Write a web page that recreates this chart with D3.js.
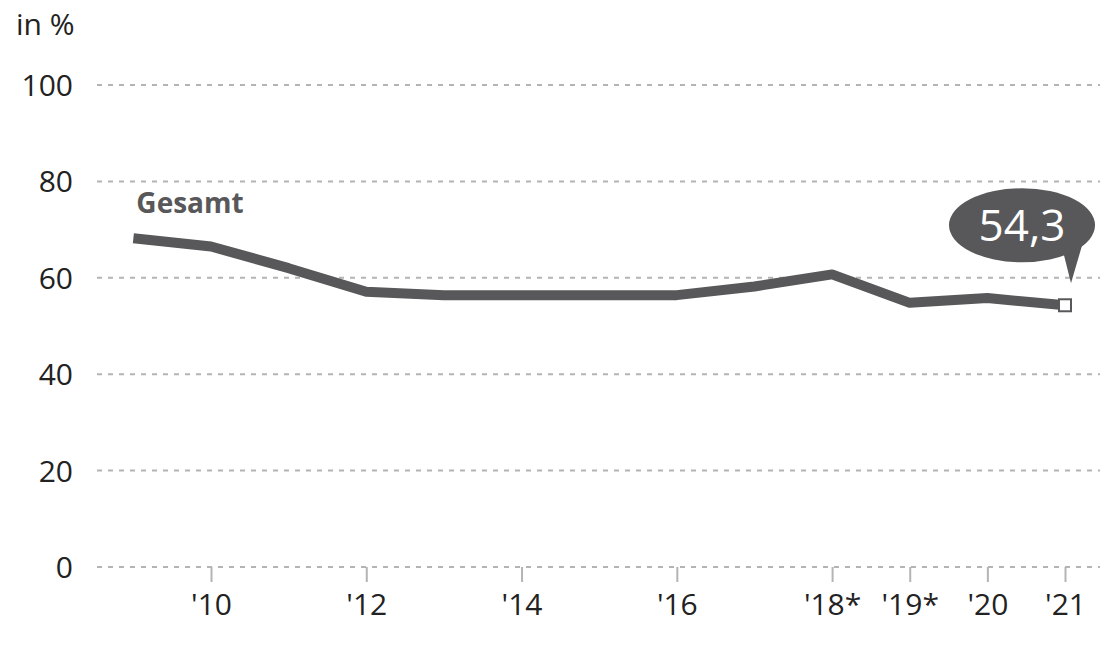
<!DOCTYPE html>
<html>
<head>
<meta charset="utf-8">
<script src="https://cdn.jsdelivr.net/npm/d3@7"></script>
<style>
  body { margin: 0; background: #fff; }
  svg text { font-family: "Open Sans", "Noto Sans", sans-serif; }
</style>
</head>
<body>
<div id="chart"></div>
<script>
var years = [2009, 2010, 2011, 2012, 2013, 2014, 2015, 2016, 2017, 2018, 2019, 2020, 2021];
var gesamt = [68.2, 66.5, 62.0, 57.1, 56.4, 56.4, 56.4, 56.4, 58.2, 60.7, 54.8, 55.8, 54.3];
var tickYears = [2010, 2012, 2014, 2016, 2018, 2019, 2020, 2021];
var tickLabels = ["'10", "'12", "'14", "'16", "'18*", "'19*", "'20", "'21"];
var yTicks = [0, 20, 40, 60, 80, 100];

var W = 1109, H = 668;
var lineColor = "#58585a"; // dunkelgrau

var svg = d3.select("#chart").append("svg")
            .attr("width", W)
            .attr("height", H);

var x = d3.scaleLinear().domain([2010, 2021]).range([211, 1065]);
var y = d3.scaleLinear().domain([0, 100]).range([567, 85]);

// Raster
svg.selectAll("line.grid")
   .data(yTicks)
   .enter()
   .append("line")
   .attr("class", "grid")
   .attr("x1", 97).attr("x2", 1100)
   .attr("y1", function(d) { return y(d); })
   .attr("y2", function(d) { return y(d); })
   .attr("stroke", "#b4b4b4")
   .attr("stroke-width", 2)
   .attr("stroke-dasharray", "5,6");

svg.selectAll("text.ylab")
   .data(yTicks)
   .enter()
   .append("text")
   .attr("class", "ylab")
   .attr("x", 73)
   .attr("y", function(d) { return y(d) + 11; })
   .attr("text-anchor", "end")
   .attr("font-size", 30)
   .attr("fill", "#222")
   .text(function(d) { return d; });

svg.append("text")
   .attr("x", 16).attr("y", 35)
   .attr("font-size", 30)
   .attr("fill", "#222")
   .text("in %");

// x-Achse
var xAxis = d3.axisBottom(x)
              .tickValues(tickYears)
              .tickSize(15)
              .tickFormat(function(d, i) { return tickLabels[i]; });

var gx = svg.append("g")
            .attr("transform", "translate(0," + y(0) + ")")
            .call(xAxis);
gx.select(".domain").remove();
gx.selectAll(".tick line").attr("stroke", "#b4b4b4").attr("stroke-width", 2);
gx.selectAll(".tick text")
  .attr("font-family", "'Open Sans', 'Noto Sans', sans-serif")
  .attr("font-size", 30)
  .attr("fill", "#222")
  .attr("y", 27);

// Linie
var line = d3.line()
             .x(function(d, i) { return x(years[i]); })
             .y(function(d) { return y(d); });

svg.append("path")
   .datum(gesamt)
   .attr("d", line)
   .attr("fill", "none")
   .attr("stroke", lineColor)
   .attr("stroke-width", 10)
   .attr("stroke-linejoin", "round");

svg.append("text")
   .attr("x", x(2009) + 3).attr("y", 213)
   .attr("font-size", 28)
   .attr("font-weight", "bold")
   .attr("fill", lineColor)
   .text("Gesamt");

// letzter Wert
var lastX = x(years[years.length - 1]);
var lastY = y(gesamt[gesamt.length - 1]);

svg.append("rect")
   .attr("x", lastX - 6).attr("y", lastY - 6)
   .attr("width", 12).attr("height", 12)
   .attr("fill", "#fff")
   .attr("stroke", lineColor)
   .attr("stroke-width", 2);

// Sprechblase
var bx = lastX - 43, by = lastY - 80;
svg.append("path")
   .attr("d", "M" + (lastX - 4) + "," + (by + 18) +
              " L" + (lastX + 6) + "," + (lastY - 22) +
              " L" + (lastX + 20) + "," + (by + 10) + " Z")
   .attr("fill", lineColor);
svg.append("ellipse")
   .attr("cx", bx).attr("cy", by)
   .attr("rx", 73).attr("ry", 37)
   .attr("fill", lineColor);
svg.append("text")
   .attr("x", bx).attr("y", by + 16)
   .attr("text-anchor", "middle")
   .attr("font-size", 44)
   .attr("fill", "#fff")
   .text(d3.format(".1f")(gesamt[gesamt.length - 1]).replace(".", ","));
</script>
</body>
</html>
